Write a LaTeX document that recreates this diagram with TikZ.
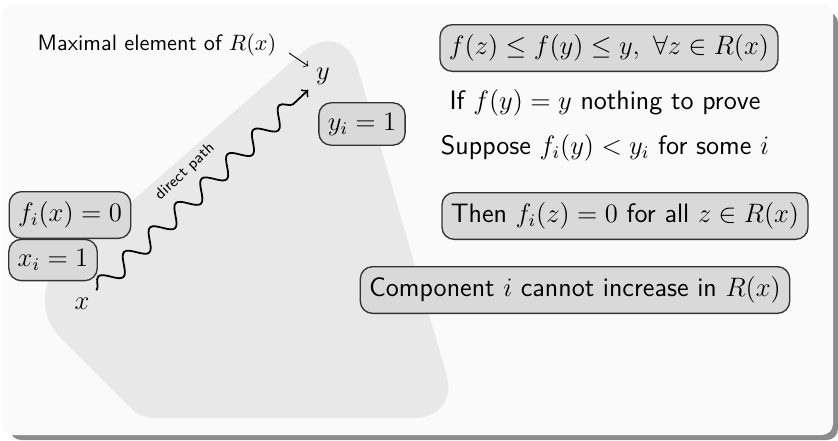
\documentclass[tikz,border=0pt]{standalone}
\usepackage{amsmath}
\usepackage{amssymb}
\usepackage{tikz}
\usetikzlibrary{decorations.pathmorphing}

\begin{document}
\begin{tikzpicture}[
			x=0.45pt, y=-0.45pt,
			% Define the styles for the nodes
			every node/.style={font=\sffamily\large},
			fact/.style={draw=black!80, line width=0.6pt, fill=black!15, rounded corners=5.5pt, inner xsep=4pt, inner ysep=4.5pt},
			region/.style={fill=black!9},
			wavy/.style={thick, ->, decorate, decoration={snake, amplitude=4pt, segment length=16pt, post length=3pt}}
			]

			\useasboundingbox (0,0) rectangle (838,440);

			% slide frame
			\fill[black!45, rounded corners=5pt] (10,12) rectangle (838,440);
			\fill[black!2, rounded corners=5pt] (2,4) rectangle (833,435);

			% the set R(x)
			\fill[region] (300,418) [rounded corners=5.4pt] -- (141,418) [rounded corners=25pt] -- (21,298) [rounded corners=24pt] -- (343,17) [rounded corners=20pt] -- (459,418) -- cycle;

			\node[fact] (bound) at (609,48) {$f(z) \le f(y) \le y,\ \forall z \in R(x)$};
			\node (trivial) at (605,103) {If $f(y) = y$ nothing to prove};
			\node (suppose) at (605,148) {Suppose $f_i(y) < y_i$ for some $i$};
			\node[fact] (zero) at (625,216) {Then $f_i(z) = 0$ for all $z \in R(x)$};
			\node[fact] (noinc) at (575,290) {Component $i$ cannot increase in $R(x)$};

			\node[fact] (yone) at (362,124) {$y_i = 1$};
			\node[fact] (fzero) at (70,215) {$f_i(x) = 0$};
			\node[fact] (xone) at (53,260) {$x_i = 1$};

			\node (y) at (323,76) {$y$};
			\node (x) at (82,304) {$x$};

			\node[font=\sffamily\normalsize] (maxlabel) at (157,45) {Maximal element of $R(x)$};
			\coordinate (maxfrom) at (289,53);

			\draw[->] (maxfrom) -- (y);
			\draw[wavy] (x) -- (y) node[midway, above=4.5pt, sloped, font=\sffamily\scriptsize] {direct path};

		\end{tikzpicture}
\end{document}
